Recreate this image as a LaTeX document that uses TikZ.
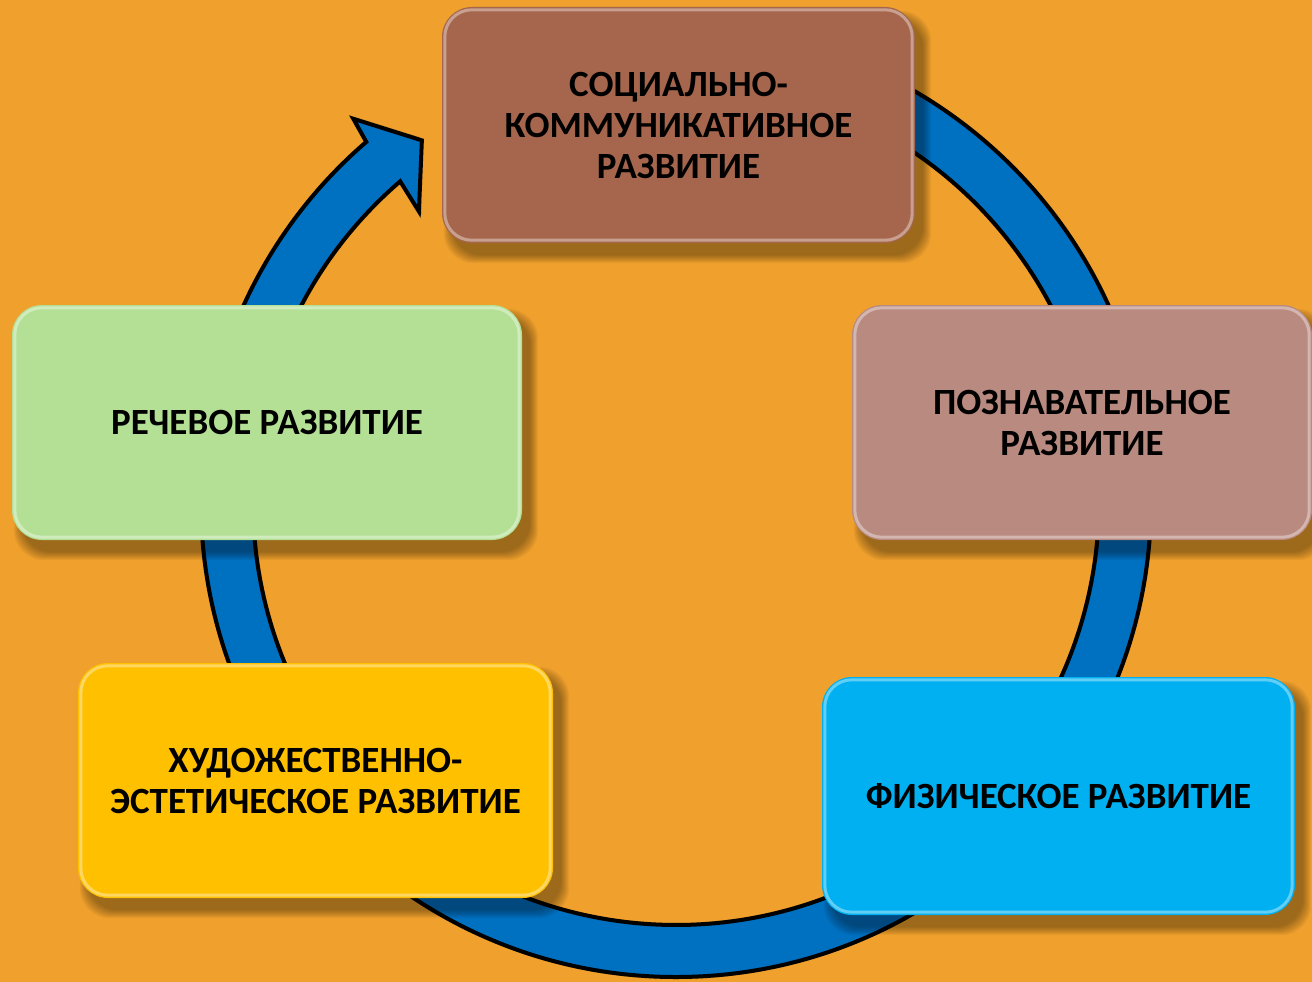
\documentclass[tikz,border=0pt]{standalone}
\usepackage{fontspec}
\setmainfont{Carlito}
\usetikzlibrary{calc}
\definecolor{bgorange}{RGB}{240,160,44}
\definecolor{ringblue}{RGB}{0,112,192}
\definecolor{cSoc}{RGB}{166,102,77}
\definecolor{cCog}{RGB}{184,138,128}
\definecolor{cPhy}{RGB}{0,176,240}
\definecolor{cArt}{RGB}{255,192,0}
\definecolor{cSpe}{RGB}{180,224,149}
\pgfdeclarelayer{back}
\pgfdeclarelayer{shade}
\pgfsetlayers{back,shade,main}
\tikzset{
  boxnode/.style={rounded corners=30pt, align=center, inner sep=0pt,
    font=\bfseries\fontsize{37}{41}\selectfont, text=black},
  ringpath/.style={fill=ringblue, draw=black, line width=4pt, line join=miter},
  rim/.style={draw=white, opacity=0.38, line width=3pt, rounded corners=27pt},
}
\newcommand{\boxshade}[1]{%
  \foreach \i in {0,...,8}{%
    \fill[black, opacity=0.045, rounded corners=30pt]
      ([shift={(2+\i,4+\i)}]#1.north west) rectangle ([shift={(16-\i,20-\i)}]#1.south east);}%
}
\begin{document}
\begin{tikzpicture}[x=1pt, y=-1pt]
\useasboundingbox (0,0) rectangle (1312,982);
\coordinate (O) at (676,502);
\begin{pgfonlayer}{back}
  \fill[bgorange] (0,0) rectangle (1312,982);
  % ring shadow
  \fill[black, opacity=0.18, shift={(5,8)}]
    ($(O)+(270:477)$) arc[start angle=270, end angle=589.3, radius=477]
    -- ($(O)+(589.9:505)$) -- ($(O)+(594.9:446)$) -- ($(O)+(588.5:384)$)
    -- ($(O)+(589.3:421)$) arc[start angle=589.3, end angle=270, radius=421] -- cycle;
  % ring arrow
  \draw[ringpath]
    ($(O)+(270:475)$) arc[start angle=270, end angle=589.3, radius=475]
    -- ($(O)+(589.9:501)$) -- ($(O)+(594.9:442)$) -- ($(O)+(588.5:388)$)
    -- ($(O)+(589.3:423)$) arc[start angle=589.3, end angle=270, radius=423] -- cycle;
\end{pgfonlayer}

\node[boxnode, fill=cSoc, minimum width=473pt, minimum height=236pt] (soc) at (678.5,125)
  {СОЦИАЛЬНО-\\КОММУНИКАТИВНОЕ\\РАЗВИТИЕ};
\node[boxnode, fill=cCog, minimum width=460pt, minimum height=235pt] (cog) at (1082,422.5)
  {ПОЗНАВАТЕЛЬНОЕ\\РАЗВИТИЕ};
\node[boxnode, fill=cPhy, minimum width=473pt, minimum height=238pt] (phy) at (1058.5,796)
  {ФИЗИЧЕСКОЕ РАЗВИТИЕ};
\node[boxnode, fill=cArt, minimum width=475pt, minimum height=235pt] (art) at (315.5,780.5)
  {ХУДОЖЕСТВЕННО-\\ЭСТЕТИЧЕСКОЕ РАЗВИТИЕ};
\node[boxnode, fill=cSpe, minimum width=510pt, minimum height=235pt] (spe) at (267,422.5)
  {РЕЧЕВОЕ РАЗВИТИЕ};

\begin{pgfonlayer}{shade}
  \boxshade{soc}
  \boxshade{cog}
  \boxshade{phy}
  \boxshade{art}
  \boxshade{spe}
\end{pgfonlayer}
\foreach \b in {soc,cog,phy,art,spe}{
  \draw[rim] ([shift={(3,3)}]\b.north west) rectangle ([shift={(-3,-3)}]\b.south east);
}
\end{tikzpicture}
\end{document}
